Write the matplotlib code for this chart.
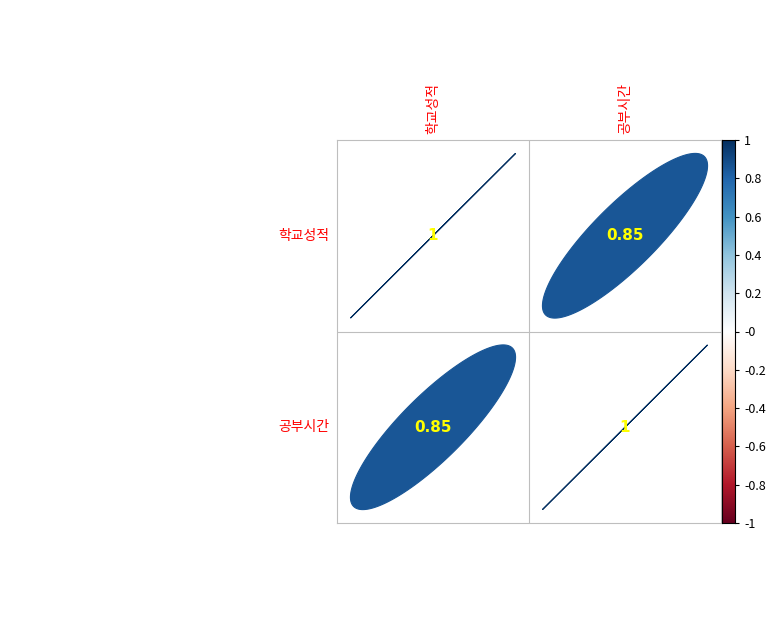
import numpy as np
import matplotlib
matplotlib.use("Agg")
import matplotlib.pyplot as plt
from matplotlib.colors import LinearSegmentedColormap
from matplotlib.patches import Polygon

plt.rcParams['font.family'] = ['Noto Sans CJK KR', 'DejaVu Sans']

labels = ["학교성적", "공부시간"]
corr = np.array([[1.0, 0.85],
                 [0.85, 1.0]])

rdbu = ["#67001F", "#B2182B", "#D6604D", "#F4A582", "#FDDBC7", "#FFFFFF",
        "#D1E5F0", "#92C5DE", "#4393C3", "#2166AC", "#053061"]
cmap = LinearSegmentedColormap.from_list("rdbu", rdbu, N=200)

W, H = 777, 620
fig = plt.figure(figsize=(W / 100, H / 100), dpi=100)
ax = fig.add_axes([337 / W, (H - 523) / H, 384 / W, 383 / H])
ax.set_xlim(0, 2)
ax.set_ylim(0, 2)
ax.set_xticks([])
ax.set_yticks([])
for s in ax.spines.values():
    s.set_color("#BEBEBE")
ax.axvline(1, color="#BEBEBE", lw=0.8)
ax.axhline(1, color="#BEBEBE", lw=0.8)

n = len(labels)
t = np.linspace(0, 2 * np.pi, 400)
for i in range(n):
    for j in range(n):
        r = corr[i, j]
        cx, cy = j + 0.5, n - i - 0.5
        col = cmap((r + 1) / 2)
        d = np.arccos(r)
        ex = cx + 0.43 * np.cos(t + d / 2)
        ey = cy + 0.43 * np.cos(t - d / 2)
        ax.add_patch(Polygon(np.column_stack([ex, ey]), closed=True,
                             facecolor=col, edgecolor=col, lw=0.8))
        txt = "1" if r == 1 else f"{r:.2f}"
        ax.text(cx, cy, txt, color="yellow", fontsize=11, fontweight="bold",
                ha="center", va="center", family="DejaVu Sans")

for k, lab in enumerate(labels):
    ax.text(-0.04, n - k - 0.5, lab, color="red", ha="right", va="center", fontsize=10)
    ax.text(k + 0.5, 2.03, lab, color="red", ha="center", va="bottom",
            rotation=90, fontsize=10)

cax = fig.add_axes([722 / W, (H - 523) / H, 13 / W, 383 / H])
grad = np.linspace(-1, 1, 200).reshape(-1, 1)
cax.imshow(grad, cmap=cmap, aspect="auto", origin="lower", extent=[0, 1, -1, 1])
cax.set_xticks([])
ticks = np.round(np.arange(-1, 1.01, 0.2), 1)
cax.yaxis.tick_right()
cax.set_yticks(ticks)
cax.set_yticklabels([f"{v:g}" for v in ticks], fontsize=9)
cax.tick_params(axis="y", length=3)

fig.savefig("out.png", dpi=100)
